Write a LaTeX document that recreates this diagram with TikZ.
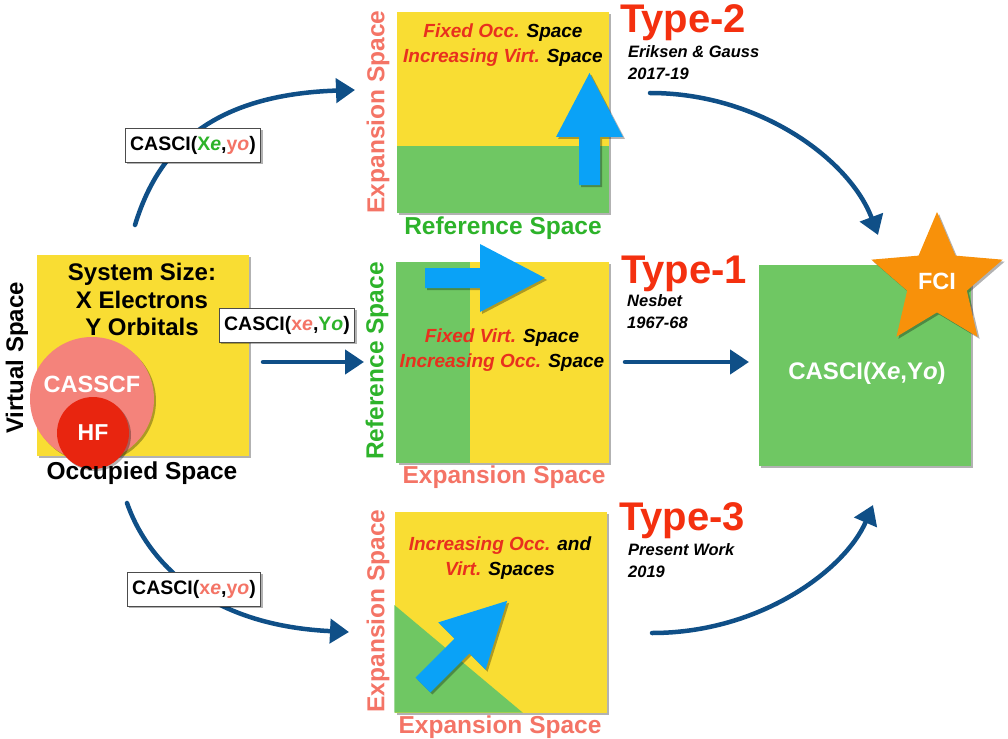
\documentclass[tikz,border=0pt]{standalone}
\usepackage{fontspec}
\setmainfont{Liberation Sans}
\usetikzlibrary{arrows.meta,shadows,shapes.geometric,calc}

\definecolor{boxyellow}{HTML}{F9DD33}
\definecolor{boxgreen}{HTML}{6FC763}
\definecolor{expsalmon}{HTML}{F47466}
\definecolor{refgreen}{HTML}{2DB32A}
\definecolor{typered}{HTML}{F4300F}
\definecolor{fixred}{HTML}{E8301E}
\definecolor{bigblue}{HTML}{0AA2F7}
\definecolor{curveblue}{HTML}{0F4F87}
\definecolor{starorange}{HTML}{F8910A}
\definecolor{casscfpink}{HTML}{F4837B}
\definecolor{hfred}{HTML}{E8250F}

\newcommand{\redtxt}[1]{\textcolor{fixred}{#1}}

\tikzset{
  boxshadow/.style={drop shadow={shadow xshift=2pt, shadow yshift=-2pt, opacity=0.3, fill=black}},
  spacebox/.style={fill=boxyellow, minimum width=212, minimum height=201, inner sep=0pt, boxshadow},
  axislabel/.style={font=\bfseries\fontsize{24.5}{24.5}\selectfont, inner sep=0pt},
  boxtext/.style={align=center, font=\bfseries\itshape\fontsize{19}{25}\selectfont, inner sep=0pt},
  typelabel/.style={anchor=base west, text=typered, font=\bfseries\fontsize{40}{40}\selectfont, inner sep=0pt},
  authorlabel/.style={anchor=base west, align=left, font=\bfseries\itshape\fontsize{16.5}{22}\selectfont, inner sep=0pt},
  casciname/.style={draw=black!70, line width=0.8pt, fill=white, inner xsep=5pt, minimum height=34,
    font=\bfseries\fontsize{19.5}{19.5}\selectfont, boxshadow},
  curvearrow/.style={draw=curveblue, line width=4.5pt, line cap=round,
    -{Triangle[length=19pt,width=24pt]}},
  blockarrow/.style={fill=bigblue, boxshadow}
}

\begin{document}
\begin{tikzpicture}[x=1pt, y=-1pt]
\useasboundingbox (0,0) rectangle (1008,738);

% system box
\node[spacebox] (sys) at (142.5,355.5) {};
\node[circle, fill=casscfpink, minimum size=124, inner sep=0pt, boxshadow] (casscf) at (92,399) {};
\node[text=white, font=\bfseries\fontsize{23.5}{23.5}\selectfont, inner sep=0pt] (casscftext) at (92,384) {CASSCF};
\node[circle, fill=hfred, minimum size=72, inner sep=0pt, boxshadow, text=white, font=\bfseries\fontsize{23}{23}\selectfont] (hf) at (93,433) {HF};
\node[font=\bfseries\fontsize{24}{27.5}\selectfont, align=center, inner sep=0pt] (size) at (142,299.5) {System Size:\\X Electrons\\Y Orbitals};
\node[axislabel, rotate=90, font=\bfseries\fontsize{24}{24}\selectfont] (virt) at (17,358) {Virtual Space};
\node[axislabel] (occ) at (142,473) {Occupied Space};

% type-2
\node[spacebox] (t2box) at (503,112.5) {};
\fill[boxgreen] (t2box.south west) rectangle ($(t2box.south east)!0.333!(t2box.north east)$);
\fill[blockarrow] (579,185) -- (600,185) -- (600,137) -- (623,137) -- (589.5,73) -- (556,137) -- (579,137) -- cycle;
\node[boxtext] (t2text) at (503,45) {\redtxt{Fixed Occ.} Space\\\redtxt{Increasing Virt.} Space};
\node[axislabel, rotate=90, text=expsalmon] (t2left) at (378,112) {Expansion Space};
\node[axislabel, text=refgreen] (t2bottom) at (503,228) {Reference Space};
\node[typelabel] (t2type) at (620,33) {Type-2};
\node[authorlabel] (t2who) at (628,80) {Eriksen \& Gauss\\2017-19};

% type-1
\node[spacebox] (t1box) at (502.5,362.5) {};
\fill[boxgreen] (t1box.north west) rectangle ($(t1box.south west)!0.345!(t1box.south east)$);
\fill[blockarrow] (425,268) -- (480,268) -- (480,244) -- (545,278) -- (480,312) -- (480,288) -- (425,288) -- cycle;
\node[boxtext] (t1text) at (502,350) {\redtxt{Fixed Virt.} Space\\\redtxt{Increasing Occ.} Space};
\node[axislabel, rotate=90, text=refgreen] (t1left) at (377,361) {Reference Space};
\node[axislabel, text=expsalmon] (t1bottom) at (504,477) {Expansion Space};
\node[typelabel] (t1type) at (621,283) {Type-1};
\node[authorlabel] (t1who) at (627,328) {Nesbet\\1967-68};

% type-3
\node[spacebox] (t3box) at (500.5,612) {};
\fill[boxgreen] (t3box.south west) -- ($(t3box.south west)!0.535!(t3box.north west)$) -- ($(t3box.south west)!0.605!(t3box.south east)$) -- cycle;
\begin{scope}[shift={(423,685)}, rotate=45]
  \fill[blockarrow] (0,-10.5) -- (55,-10.5) -- (55,-33.5) -- (119,0) -- (55,33.5) -- (55,10.5) -- (0,10.5) -- cycle;
\end{scope}
\node[boxtext] (t3text) at (500,558) {\redtxt{Increasing Occ.} and\\\redtxt{Virt.} Spaces};
\node[axislabel, rotate=90, text=expsalmon] (t3left) at (378,611) {Expansion Space};
\node[axislabel, text=expsalmon] (t3bottom) at (500,727) {Expansion Space};
\node[typelabel] (t3type) at (619,530) {Type-3};
\node[authorlabel] (t3who) at (628,577) {Present Work\\2019};

% full CI
\node[fill=boxgreen, minimum width=212, minimum height=201, boxshadow] (fcibox) at (865,365.5) {};
\node[text=white, font=\bfseries\fontsize{24}{24}\selectfont, inner sep=0pt] (fcitext) at (867,373) {CASCI(X\textit{e},Y\textit{o})};
\node[star, star points=5, star point ratio=2.2, fill=starorange, minimum size=138, inner sep=0pt, boxshadow,
  text=white, font=\bfseries\fontsize{23.5}{23.5}\selectfont] (fci) at (937,281) {FCI};

% connectors
\coordinate (c2start) at (135,225);
\coordinate (c2end) at (355,90);
\coordinate (c1start) at (263,362);
\coordinate (c1end) at (364,362);
\coordinate (c3start) at (127,503);
\coordinate (c3end) at (349,632);
\coordinate (f2start) at (650,93);
\coordinate (f2end) at (878,235);
\coordinate (f1start) at (625,362);
\coordinate (f1end) at (749,362);
\coordinate (f3start) at (652,633);
\coordinate (f3end) at (873,505);

\draw[curvearrow] (c2start) .. controls (155,160) and (200,95) .. (c2end);
\draw[curvearrow] (c1start) -- (c1end);
\draw[curvearrow] (c3start) .. controls (145,555) and (200,625) .. (c3end);
\draw[curvearrow] (f2start) .. controls (760,93) and (850,160) .. (f2end);
\draw[curvearrow] (f1start) -- (f1end);
\draw[curvearrow] (f3start) .. controls (760,633) and (845,570) .. (f3end);

\node[casciname] (lab2) at (193,145) {CASCI(\textcolor{refgreen}{X\textit{e}},\textcolor{expsalmon}{y\textit{o}})};
\node[casciname] (lab1) at (287,325) {CASCI(\textcolor{expsalmon}{x\textit{e}},\textcolor{refgreen}{Y\textit{o}})};
\node[casciname] (lab3) at (194,589) {CASCI(\textcolor{expsalmon}{x\textit{e}},\textcolor{expsalmon}{y\textit{o}})};
\end{tikzpicture}
\end{document}
